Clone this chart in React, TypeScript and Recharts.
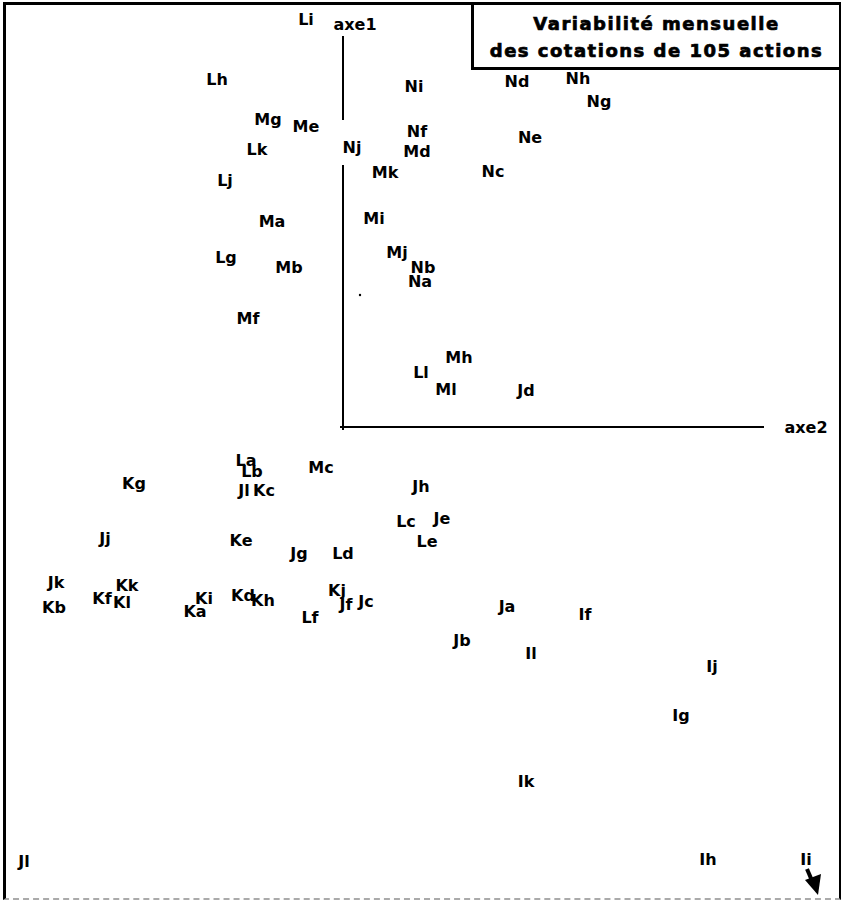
import React from 'react';
import { ScatterChart, Scatter, XAxis, YAxis, ReferenceLine } from 'recharts';

// factor-map coordinates (axe2 horizontal, axe1 vertical)
const labels = [
  'Li', 'Lh', 'Ni', 'Nd', 'Nh', 'Ng', 'Mg', 'Me', 'Nf', 'Ne', 'Lk', 'Nj', 'Md', 'Mk', 'Nc', 'Lj',
  'Ma', 'Mi', 'Lg', 'Mj', 'Mb', 'Nb', 'Na', 'Mf', 'Mh', 'Ll', 'Ml', 'Jd',
  'La', 'Lb', 'Mc', 'Kg', 'Jl', 'Kc', 'Jh', 'Lc', 'Je', 'Le', 'Jj', 'Ke', 'Jg', 'Ld',
  'Jk', 'Kk', 'Kb', 'Kf', 'Kl', 'Ki', 'Ka', 'Kd', 'Kh', 'Kj', 'Jf', 'Jc', 'Lf',
  'Ja', 'If', 'Jb', 'Il', 'Ij', 'Ig', 'Ik', 'Ih', 'Ii', 'Jl',
];
const axe2 = [
  -0.37, -1.26, 0.71, 1.74, 2.35, 2.56, -0.75, -0.37, 0.74, 1.87, -0.86, 0.09, 0.74, 0.42, 1.5, -1.18,
  -0.71, 0.31, -1.17, 0.54, -0.54, 0.8, 0.77, -0.95, 1.16, 0.78, 1.03, 1.83,
  -0.97, -0.91, -0.22, -2.09, -0.99, -0.79, 0.78, 0.63, 0.99, 0.84, -2.38, -1.02, -0.44, 0.0,
  -2.87, -2.16, -2.89, -2.41, -2.21, -1.39, -1.48, -1.0, -0.8, -0.06, 0.03, 0.23, -0.33,
  1.64, 2.42, 1.19, 1.88, 3.69, 3.38, 1.83, 3.65, 4.63, -3.19,
];
const axe1 = [
  4.08, 3.48, 3.41, 3.46, 3.49, 3.26, 3.08, 3.01, 2.96, 2.9, 2.78, 2.8, 2.76, 2.55, 2.56, 2.47,
  2.06, 2.09, 1.7, 1.75, 1.6, 1.6, 1.46, 1.09, 0.7, 0.55, 0.38, 0.37,
  -0.33, -0.44, -0.4, -0.56, -0.63, -0.63, -0.59, -0.94, -0.91, -1.14, -1.11, -1.13, -1.26, -1.26,
  -1.55, -1.58, -1.8, -1.71, -1.75, -1.71, -1.84, -1.68, -1.73, -1.63, -1.77, -1.74, -1.9,
  -1.79, -1.87, -2.13, -2.26, -2.39, -2.88, -3.54, -4.32, -4.32, -4.34,
];
// points lying beyond the frame, marked with an arrow
const offScale = ['Ii'];

// the lone centre-of-gravity dot
const dotX = [0.17];
const dotY = [1.32];

const axisNames = ['axe1', 'axe2'];
const axisNameX = [0.12, 4.63];
const axisNameY = [4.03, 0.0];

const xDomain: [number, number] = [-3.43, 4.99];
const yDomain: [number, number] = [-4.74, 4.27];

const points = labels.map((name, i) => ({ name, x: axe2[i], y: axe1[i] }));
const dots = dotX.map((x, i) => ({ x, y: dotY[i] }));
const axisPoints = axisNames.map((name, i) => ({ name, x: axisNameX[i], y: axisNameY[i] }));

const FONT = '"DejaVu Sans", sans-serif';

const LabelShape = (props: any) => {
  const { cx, cy, payload } = props;
  if (typeof cx !== 'number' || typeof cy !== 'number') return null;
  const arrow = offScale.includes(payload.name);
  return (
    <g>
      <text
        x={cx}
        y={cy}
        textAnchor="middle"
        dominantBaseline="central"
        fontFamily={FONT}
        fontWeight="bold"
        fontSize={16}
        fill="#000"
      >
        {payload.name}
      </text>
      {arrow && (
        <g>
          <line x1={cx + 1} y1={cy + 10} x2={cx + 7} y2={cy + 24} stroke="#000" strokeWidth={4} />
          <path d={`M ${cx - 1} ${cy + 21} L ${cx + 12} ${cy + 36} L ${cx + 15} ${cy + 15} Z`} fill="#000" />
        </g>
      )}
    </g>
  );
};

const DotShape = (props: any) => {
  const { cx, cy } = props;
  if (typeof cx !== 'number' || typeof cy !== 'number') return null;
  return <circle cx={cx} cy={cy} r={1.2} fill="#000" />;
};

const App = () => {
  return (
    <div style={{ position: 'absolute', left: 0, top: 0, width: 842, height: 901, background: '#fff' }}>
      <div
        style={{
          position: 'absolute',
          left: 3,
          top: 2,
          width: 838,
          height: 898,
          boxSizing: 'border-box',
          borderLeft: '3px solid #000',
          borderTop: '3px solid #000',
          borderRight: '2px solid #000',
          borderBottom: '2px dashed #aaa',
        }}
      />
      <div
        style={{
          position: 'absolute',
          left: 471,
          top: 5,
          width: 368,
          height: 65,
          boxSizing: 'border-box',
          borderLeft: '3px solid #000',
          borderBottom: '3px solid #000',
          textAlign: 'center',
          fontFamily: FONT,
          fontWeight: 'bold',
          fontSize: 18,
          letterSpacing: 1.5,
          lineHeight: '27px',
          paddingTop: 5,
          color: '#000',
          WebkitTextStroke: '0.7px #000',
        }}
      >
        <div>Variabilité mensuelle</div>
        <div>des cotations de 105 actions</div>
      </div>
      <div style={{ position: 'absolute', left: 0, top: 0 }}>
        <ScatterChart width={842} height={901} margin={{ top: 0, right: 0, bottom: 0, left: 0 }}>
          <XAxis type="number" dataKey="x" domain={xDomain} hide allowDataOverflow />
          <YAxis type="number" dataKey="y" domain={yDomain} hide allowDataOverflow />
          <ReferenceLine segment={[{ x: 0, y: -0.03 }, { x: 0, y: 2.62 }]} stroke="#000" strokeWidth={2} ifOverflow="visible" />
          <ReferenceLine segment={[{ x: 0, y: 3.07 }, { x: 0, y: 3.91 }]} stroke="#000" strokeWidth={2} ifOverflow="visible" />
          <ReferenceLine segment={[{ x: -0.03, y: 0 }, { x: 4.21, y: 0 }]} stroke="#000" strokeWidth={2} ifOverflow="visible" />
          <Scatter data={dots} shape={<DotShape />} isAnimationActive={false} />
          <Scatter data={points} shape={<LabelShape />} isAnimationActive={false} />
          <Scatter data={axisPoints} shape={<LabelShape />} isAnimationActive={false} />
        </ScatterChart>
      </div>
    </div>
  );
};

export default App;
